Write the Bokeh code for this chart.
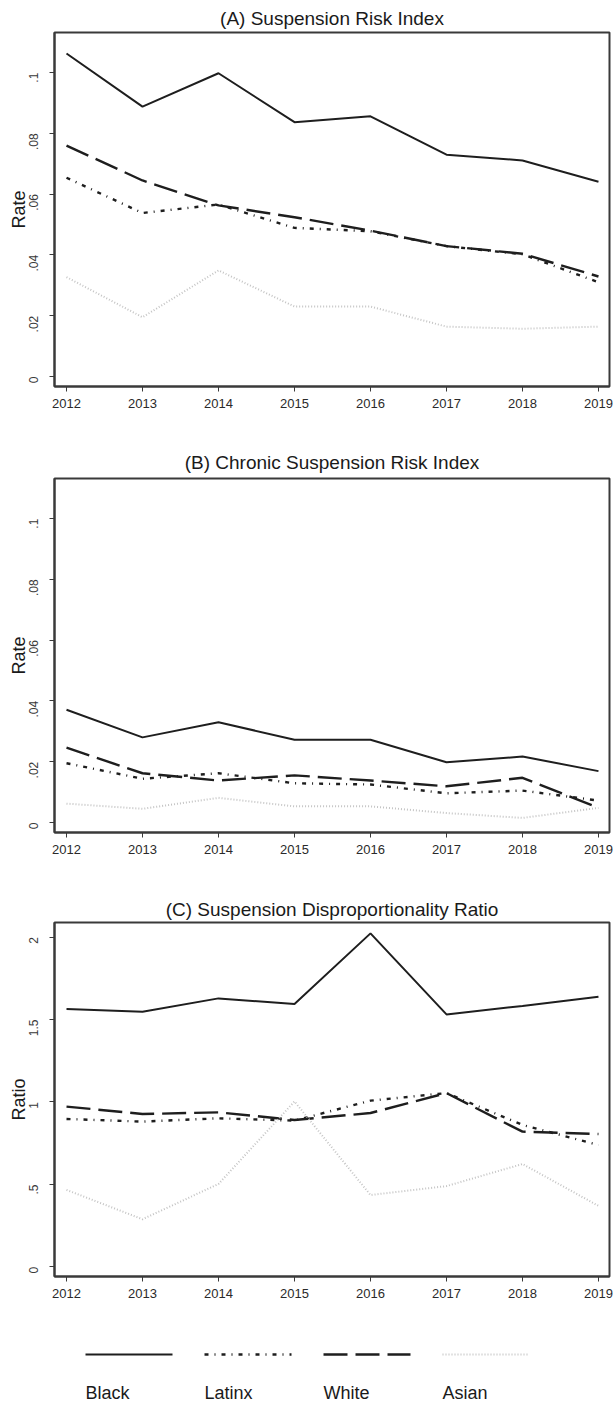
import math

from bokeh.core.properties import value
from bokeh.embed import file_html
from bokeh.layouts import column
from bokeh.models import FixedTicker, Range1d
from bokeh.plotting import figure
from bokeh.resources import INLINE

# ---- data -----------------------------------------------------------------
years = [2012, 2013, 2014, 2015, 2016, 2017, 2018, 2019]
groups = ["Black", "Latinx", "White", "Asian"]

# (A) Suspension Risk Index
risk_black = [0.1063, 0.0888, 0.0998, 0.0837, 0.0856, 0.0730, 0.0711, 0.0641]
risk_latinx = [0.0654, 0.0538, 0.0566, 0.0489, 0.0478, 0.0429, 0.0402, 0.0310]
risk_white = [0.0760, 0.0645, 0.0563, 0.0524, 0.0480, 0.0429, 0.0404, 0.0329]
risk_asian = [0.0327, 0.0195, 0.0349, 0.0230, 0.0230, 0.0164, 0.0157, 0.0164]

# (B) Chronic Suspension Risk Index
chronic_black = [0.0371, 0.0280, 0.0330, 0.0272, 0.0272, 0.0198, 0.0217, 0.0169]
chronic_latinx = [0.0195, 0.0144, 0.0162, 0.0129, 0.0125, 0.0096, 0.0105, 0.0072]
chronic_white = [0.0246, 0.0162, 0.0138, 0.0155, 0.0138, 0.0119, 0.0147, 0.0048]
chronic_asian = [0.0062, 0.0045, 0.0081, 0.0053, 0.0053, 0.0031, 0.0015, 0.0048]

# (C) Suspension Disproportionality Ratio
ratio_black = [1.564, 1.547, 1.628, 1.594, 2.022, 1.531, 1.582, 1.638]
ratio_latinx = [0.897, 0.881, 0.901, 0.887, 1.008, 1.054, 0.861, 0.739]
ratio_white = [0.972, 0.927, 0.937, 0.891, 0.933, 1.054, 0.820, 0.806]
ratio_asian = [0.467, 0.289, 0.503, 1.003, 0.436, 0.490, 0.624, 0.370]

rate_ticks = [0, 0.02, 0.04, 0.06, 0.08, 0.1]
rate_tick_labels = ["0", ".02", ".04", ".06", ".08", ".1"]
ratio_ticks = [0, 0.5, 1, 1.5, 2]
ratio_tick_labels = ["0", ".5", "1", "1.5", "2"]

# ---- styling --------------------------------------------------------------
FONT = "Liberation Sans"
STYLES = {
    "Black": dict(line_color="#1e1e1e", line_width=2.0, line_dash="solid"),
    "Latinx": dict(line_color="#1e1e1e", line_width=2.4, line_dash="4 6 1 6"),
    "White": dict(line_color="#1e1e1e", line_width=2.4, line_dash="24 8"),
    "Asian": dict(line_color="#c4c4c4", line_width=2.0, line_dash="1 2"),
}

W = 615
BORDER_L, BORDER_R = 54, 6
X_START, X_END = 2011.842, 2019.145


def panel(title, ylabel, series, ticks, tick_labels, y_start, y_end,
          height, top, bottom, standoff):
    p = figure(width=W, height=height,
               x_range=Range1d(X_START, X_END),
               y_range=Range1d(y_start, y_end),
               output_backend="svg", toolbar_location=None,
               min_border_left=BORDER_L, min_border_right=BORDER_R,
               min_border_top=top, min_border_bottom=bottom)
    p.title.text = title
    p.title.align = "center"
    p.title.text_font = FONT
    p.title.text_font_size = "19px"
    p.title.text_font_style = "normal"
    p.title.text_color = "#1a1a1a"
    p.title.standoff = standoff

    p.xgrid.visible = False
    p.ygrid.visible = False
    p.outline_line_color = "#3a3a3a"
    p.outline_line_width = 2
    p.background_fill_color = "white"
    p.border_fill_color = "white"

    for g, ys in zip(groups, series):
        p.line(years, ys, **STYLES[g])

    xa = p.xaxis[0]
    xa.ticker = FixedTicker(ticks=years)
    xa.axis_line_color = "#3a3a3a"
    xa.axis_line_width = 2
    xa.major_tick_out = 5
    xa.major_tick_in = 0
    xa.minor_tick_out = 0
    xa.minor_tick_in = 0
    xa.major_tick_line_color = "#3a3a3a"
    xa.major_label_standoff = 7
    xa.major_label_text_font = FONT
    xa.major_label_text_font_size = "13px"
    xa.major_label_text_color = "#2a2a2a"

    ya = p.yaxis[0]
    ya.ticker = FixedTicker(ticks=ticks)
    ya.major_label_overrides = dict(zip(ticks, tick_labels))
    ya.major_label_orientation = math.pi / 2
    ya.axis_line_color = "#3a3a3a"
    ya.axis_line_width = 2
    ya.major_tick_out = 5
    ya.major_tick_in = 0
    ya.minor_tick_out = 0
    ya.minor_tick_in = 0
    ya.major_tick_line_color = "#3a3a3a"
    ya.major_label_standoff = 16
    ya.major_label_text_font = FONT
    ya.major_label_text_font_size = "12px"
    ya.major_label_text_color = "#3a3a3a"
    ya.axis_label = ylabel
    ya.axis_label_standoff = -7
    ya.axis_label_text_font = FONT
    ya.axis_label_text_font_size = "18px"
    ya.axis_label_text_font_style = "normal"
    ya.axis_label_text_color = "#1a1a1a"
    return p


pa = panel("(A) Suspension Risk Index", "Rate",
           [risk_black, risk_latinx, risk_white, risk_asian],
           rate_ticks, rate_tick_labels, -0.0033, 0.1132,
           height=432, top=32, bottom=46, standoff=8)
pb = panel("(B) Chronic Suspension Risk Index", "Rate",
           [chronic_black, chronic_latinx, chronic_white, chronic_asian],
           rate_ticks, rate_tick_labels, -0.0033, 0.1132,
           height=446, top=46, bottom=46, standoff=11)
pc = panel("(C) Suspension Disproportionality Ratio", "Ratio",
           [ratio_black, ratio_latinx, ratio_white, ratio_asian],
           ratio_ticks, ratio_tick_labels, -0.058, 2.088,
           height=442, top=44, bottom=44, standoff=6)

# ---- key: sample line above, group name below -----------------------------
# The key's data space equals page pixels: x from the left page edge,
# y from the bottom of the key strip.
LEG_H = 81
leg = figure(width=W, height=LEG_H,
             x_range=Range1d(BORDER_L, W - BORDER_R),
             y_range=Range1d(0, LEG_H), output_backend="svg",
             toolbar_location=None, min_border=0,
             min_border_left=BORDER_L, min_border_right=BORDER_R,
             min_border_top=0, min_border_bottom=0)
leg.axis.visible = False
leg.xgrid.visible = False
leg.ygrid.visible = False
leg.outline_line_color = None
leg.background_fill_color = "white"
leg.border_fill_color = "white"

key_left = 85
key_step = 119
key_len = 87
for i, g in enumerate(groups):
    x0 = key_left + i * key_step
    leg.line([x0, x0 + key_len], [47, 47], **STYLES[g])
    leg.text(x=[x0], y=[19], text=[g], text_font=value(FONT),
             text_font_size="18px", text_baseline="top",
             text_align="left", text_color="#1a1a1a")

layout = column(pa, pb, pc, leg, spacing=0)
open("out.html", "w").write(file_html(layout, INLINE))
